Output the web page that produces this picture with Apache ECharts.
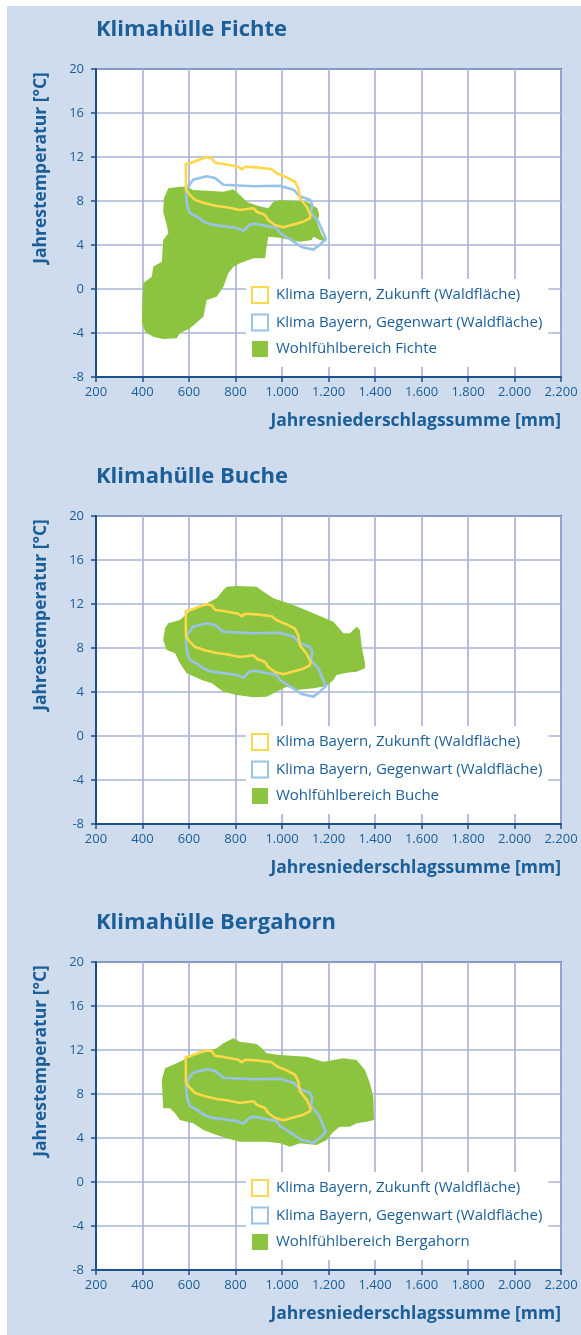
<!DOCTYPE html>
<html><head><meta charset="utf-8">
<script src="https://cdn.jsdelivr.net/npm/echarts@6/dist/echarts.min.js"></script>
<style>
html,body{margin:0;padding:0;background:#fff;}
#bg{position:absolute;left:7px;top:6px;right:0;bottom:0;background:#cfdcee;}
#c{position:absolute;left:0;top:0;width:581px;height:1335px;}
</style></head><body><div id="bg"></div><div id="c"></div>
<script>
// ---- data ----
const chartTitles = ['Klimahülle Fichte', 'Klimahülle Buche', 'Klimahülle Bergahorn'];
const speciesNames = ['Wohlfühlbereich Fichte', 'Wohlfühlbereich Buche', 'Wohlfühlbereich Bergahorn'];
const futureName = 'Klima Bayern, Zukunft (Waldfläche)';
const presentName = 'Klima Bayern, Gegenwart (Waldfläche)';
const xTicks = [200, 400, 600, 800, 1000, 1200, 1400, 1600, 1800, 2000, 2200];
const yTicks = [-8, -4, 0, 4, 8, 12, 16, 20];
const xAxisName = 'Jahresniederschlagssumme [mm]';
const yAxisName = 'Jahrestemperatur [°C]';

// Klima Bayern, Zukunft (Waldfläche): [precipitation mm, temperature °C]
const zukunft = [[586,11.36],[604,11.43],[640,11.73],[676,11.97],[698,11.88],[712,11.48],[748,11.36],[812,11.12],[827,10.88],[841,11.12],[891,11.06],[956,10.88],[977,10.52],[1020,10.15],[1056,9.75],[1070,9.15],[1077,8.25],[1106,7.48],[1123,6.73],[1120,6.43],[1092,6.12],[1041,5.82],[1006,5.61],[970,5.82],[941,6.27],[927,6.73],[891,7.03],[877,7.34],[819,7.18],[762,7.43],[719,7.55],[669,7.79],[626,8.09],[604,8.55],[587,9.0]];
// Klima Bayern, Gegenwart (Waldfläche)
const gegenwart = [[597,9.34],[618,9.94],[676,10.25],[712,10.09],[748,9.48],[877,9.34],[991,9.39],[1049,9.03],[1077,8.43],[1120,8.12],[1130,7.66],[1125,6.91],[1156,6.15],[1189,4.55],[1163,4.03],[1135,3.58],[1084,3.82],[1049,4.33],[991,5.09],[977,5.55],[884,5.94],[862,5.85],[834,5.3],[805,5.55],[697,5.85],[669,6.06],[626,6.67],[604,6.91],[593,7.52],[587,8.73]];
// Wohlfühlbereich Fichte
const fichte = [[511,9.15],[561,9.3],[590,9.3],[618,9.0],[676,8.94],[748,8.85],[791,9.06],[819,8.55],[848,7.94],[898,7.55],[941,7.34],[963,7.94],[991,8.09],[1049,8.03],[1106,7.94],[1152,7.34],[1160,6.73],[1152,5.97],[1171,4.91],[1192,4.3],[1163,4.45],[1135,4.75],[1128,4.45],[1077,4.3],[1034,4.45],[991,4.66],[941,4.75],[934,3.85],[927,2.79],[877,2.79],[819,2.34],[791,2.03],[769,1.43],[748,0.21],[719,-0.7],[676,-1.0],[662,-2.52],[604,-3.57],[561,-4.03],[547,-4.48],[489,-4.55],[446,-4.34],[411,-3.88],[397,-2.97],[403,0.52],[440,1.12],[446,2.03],[483,2.48],[489,4.45],[511,5.06],[504,5.82],[489,7.03],[492,8.24]];
// Wohlfühlbereich Buche
const buche = [[748,13.27],[762,13.57],[805,13.64],[891,13.57],[920,13.12],[963,12.52],[1049,11.91],[1135,11.15],[1221,10.39],[1264,9.34],[1292,9.34],[1321,9.94],[1335,9.64],[1343,8.12],[1357,6.61],[1357,6.15],[1321,5.85],[1278,5.75],[1235,5.55],[1221,5.09],[1192,4.55],[1135,4.34],[1063,4.18],[1020,4.48],[991,4.18],[934,3.57],[877,3.52],[805,3.73],[748,4.03],[698,4.79],[655,5.09],[590,5.7],[561,6.61],[540,7.52],[504,7.82],[489,8.73],[497,9.79],[511,10.24],[561,10.55],[618,11.61],[676,12.06],[719,12.52]];
// Wohlfühlbereich Bergahorn
const bergahorn = [[748,12.61],[791,13.06],[819,12.75],[891,12.55],[913,12.15],[934,11.7],[991,11.55],[1106,11.39],[1178,10.94],[1264,11.24],[1321,11.09],[1357,10.18],[1378,8.97],[1393,7.75],[1396,5.64],[1364,5.48],[1321,5.34],[1292,5.03],[1249,5.03],[1221,4.57],[1192,3.82],[1149,3.36],[1077,3.52],[1034,3.21],[991,3.52],[934,3.66],[819,3.66],[762,3.97],[719,4.27],[662,4.73],[618,5.33],[561,5.64],[540,6.24],[518,6.7],[489,6.7],[483,9.27],[497,10.33],[547,10.79],[575,11.09],[618,11.55],[676,11.85],[719,12.15]];
const speciesData = [fichte, buche, bergahorn];

// ---- style ----
const TXT = '#1b5e98';
const AXIS = '#1d4f8c';
const GRIDC = '#aab4d6';
const GREEN = '#8cc43f';
const YELLOW = '#fdd84a';
const BLUE = '#98c3e9';
const FONT = '"Open Sans", "Noto Sans", sans-serif';
const offsets = [0, 447, 893];
const PLOT_TOP = 69, PLOT_H = 308, PLOT_L = 96, PLOT_W = 465;

function fmtX(v){ return v >= 1000 ? Math.floor(v/1000) + '.' + String(v%1000).padStart(3,'0') : String(v); }

function polyRender(points, fill, stroke){
  return function(params, api){
    if (params.dataIndex !== 0) return null;
    const pts = points.map(p => api.coord(p));
    return {type:'polygon', shape:{points: pts},
      style: stroke ? {fill:'none', stroke: stroke, lineWidth: 2.6, lineJoin:'round'} : {fill: fill}};
  };
}

const grid = [], xAxis = [], yAxis = [], series = [], legend = [], graphic = [];
offsets.forEach((off, i) => {
  grid.push({left: PLOT_L, top: PLOT_TOP + off, width: PLOT_W, height: PLOT_H, show: true,
    borderColor: AXIS, borderWidth: 2, backgroundColor: '#fff'});
  xAxis.push({type:'value', gridIndex:i, min: xTicks[0], max: xTicks[xTicks.length-1], interval: 200,
    axisLine:{show:true, onZero:false, lineStyle:{color:AXIS, width:2}},
    axisTick:{show:true, length:5, lineStyle:{color:AXIS, width:1.5}},
    splitLine:{show:true, lineStyle:{color:GRIDC, width:1.7}},
    axisLabel:{color:TXT, fontSize:13, fontFamily:FONT, margin:9, formatter: fmtX}});
  yAxis.push({type:'value', gridIndex:i, min: yTicks[0], max: yTicks[yTicks.length-1], interval: 4,
    axisLine:{show:true, onZero:false, lineStyle:{color:AXIS, width:2}},
    axisTick:{show:true, length:5, lineStyle:{color:AXIS, width:1.5}},
    splitLine:{show:true, lineStyle:{color:GRIDC, width:1.7}},
    axisLabel:{color:TXT, fontSize:13, fontFamily:FONT, margin:12}});
  series.push({type:'custom', name: speciesNames[i], xAxisIndex:i, yAxisIndex:i, data: speciesData[i],
    renderItem: polyRender(speciesData[i], GREEN, null), silent:true, z:2, itemStyle:{color:GREEN}});
  series.push({type:'custom', name: presentName, xAxisIndex:i, yAxisIndex:i, data: gegenwart,
    renderItem: polyRender(gegenwart, null, BLUE), silent:true, z:3, itemStyle:{color:BLUE}});
  series.push({type:'custom', name: futureName, xAxisIndex:i, yAxisIndex:i, data: zukunft,
    renderItem: polyRender(zukunft, null, YELLOW), silent:true, z:4, itemStyle:{color:YELLOW}});
  const sq = 'path://M0,0L16,0L16,16L0,16Z';
  legend.push({left: 246, top: 279 + off, orient:'vertical', backgroundColor:'#fff',
    padding:[7, 6, 10, 5], itemWidth:22, itemHeight:16, itemGap:9.5, selectedMode:false,
    textStyle:{color:TXT, fontSize:15, fontFamily:FONT},
    data:[
      {name: futureName, icon: sq, itemStyle:{color:'#fff', borderColor:YELLOW, borderWidth:2}},
      {name: presentName, icon: sq, itemStyle:{color:'#fff', borderColor:BLUE, borderWidth:2}},
      {name: speciesNames[i], icon: sq, itemStyle:{color:GREEN, borderWidth:0}}
    ]});
  graphic.push({type:'text', left: 96, top: 19 + off, style:{text: chartTitles[i], fill:TXT,
    font:'bold 22px ' + FONT}});
  graphic.push({type:'text', right: 20, top: 412 + off, style:{text: xAxisName, fill:TXT,
    font:'bold 17.5px ' + FONT}});
  graphic.push({type:'text', x: 41, y: 168 + off, rotation: Math.PI/2, style:{text: yAxisName, fill:TXT,
    font:'bold 17.5px ' + FONT, align:'center', verticalAlign:'middle'}});
});

const chart = echarts.init(document.getElementById('c'), null, {renderer:'canvas'});
chart.setOption({animation:false, backgroundColor:'transparent', grid, xAxis, yAxis, series, legend, graphic});
</script></body></html>
